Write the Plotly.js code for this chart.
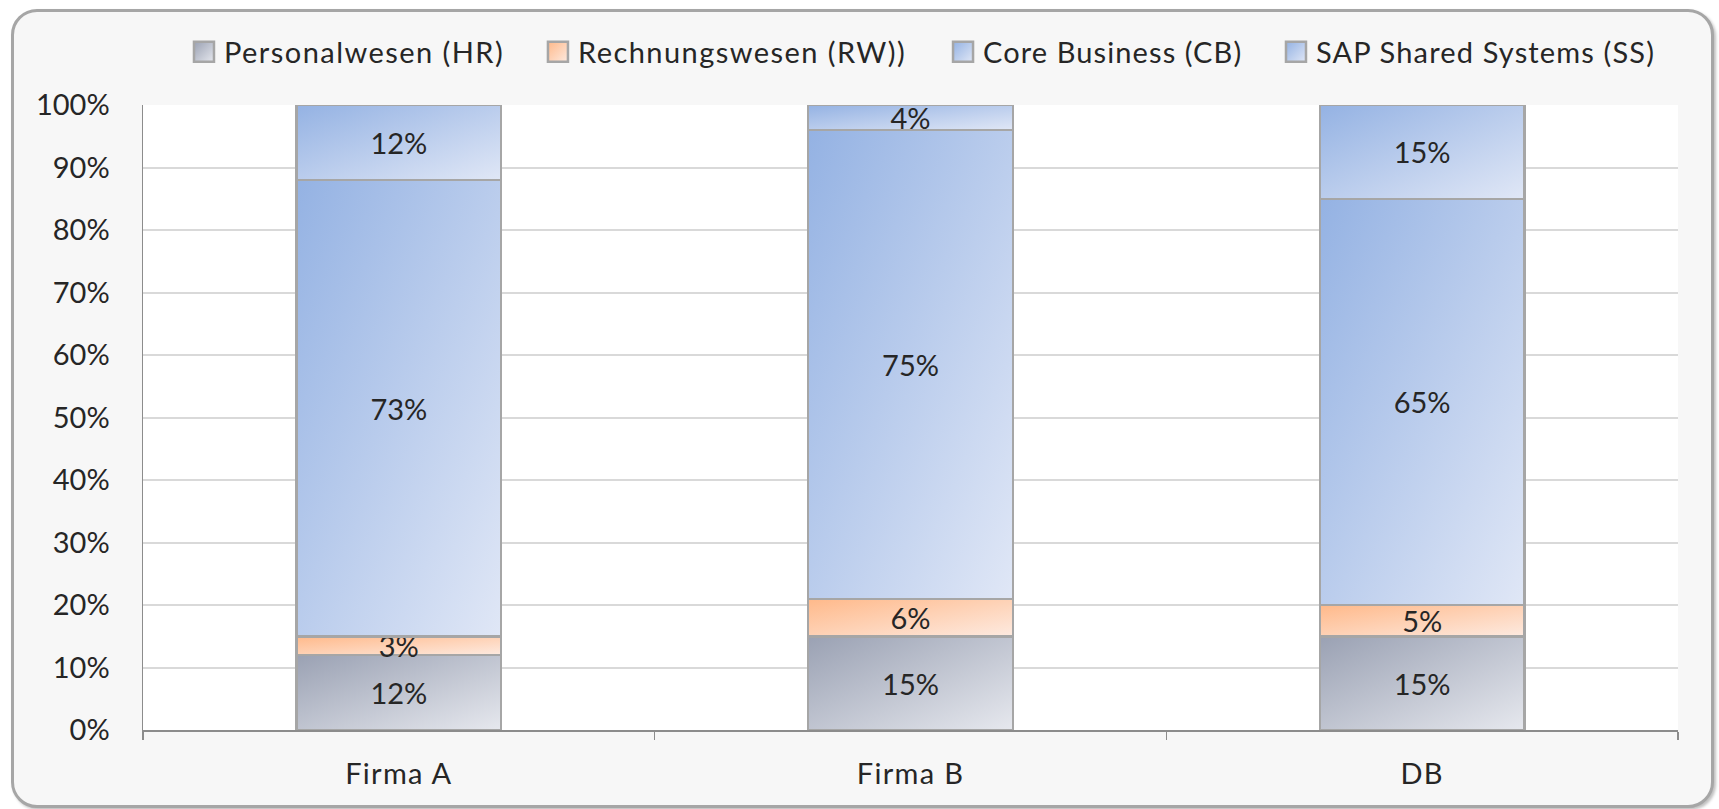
<!DOCTYPE html>
<html>
<head>
<meta charset="utf-8">
<script src="https://cdn.plot.ly/plotly-3.0.1.min.js"></script>
<style>
  html, body { margin: 0; padding: 0; background: #ffffff; width: 1719px; height: 809px; overflow: hidden; }
  #frame { position: absolute; left: 11px; top: 9px; width: 1697px; height: 793px;
           border: 3px solid #a6a6a6; border-radius: 26px; background: #f7f7f7;
           box-shadow: 2px 2px 3px rgba(0,0,0,0.25); }
  #chart { position: absolute; left: 0; top: 0; width: 1719px; height: 809px; }
  #chart .xtick text { letter-spacing: 1.3px; }
</style>
</head>
<body>
<div id="frame"></div>
<div id="chart"></div>
<script>
const categories = ["Firma A", "Firma B", "DB"];
const seriesNames = ["Personalwesen (HR)", "Rechnungswesen (RW))", "Core Business (CB)", "SAP Shared Systems (SS)"];
const hrValues = [12, 15, 15];
const rwValues = [3, 6, 5];
const cbValues = [73, 75, 65];
const ssValues = [12, 4, 15];
const yTickValues = [0, 10, 20, 30, 40, 50, 60, 70, 80, 90, 100];

const seriesValues = [hrValues, rwValues, cbValues, ssValues];
const baseColors = ["#bfc3cf", "#fdd0b4", "#bccdec", "#bccdec"];
const gradStops = [
  ["#9aa1b3", "#e6e8ee"],
  ["#ffb98a", "#fdeae0"],
  ["#94b2e3", "#e0e7f6"],
  ["#94b2e3", "#e0e7f6"]
];
const legendIds = ["legend", "legend2", "legend3", "legend4"];
const legendX = [0.0267, 0.2573, 0.5212, 0.7381];
const legendSpacing = [1.45, 1.45, 1.1, 1.15];
const FONT = "Lato, 'Open Sans', sans-serif";
const FS = 29;

const traces = seriesNames.map((name, i) => ({
  type: "bar",
  name: name,
  legend: legendIds[i],
  x: categories,
  y: seriesValues[i],
  text: seriesValues[i].map(v => v + "%"),
  texttemplate: "%{text}",
  textposition: "inside",
  insidetextanchor: "middle",
  textangle: 0,
  constraintext: "none",
  cliponaxis: false,
  textfont: { family: FONT, size: FS, color: "#262626" },
  marker: { color: baseColors[i], line: { color: "#a6a6a6", width: 2.5 } },
  hoverinfo: "none"
}));

const layout = {
  width: 1719,
  height: 809,
  paper_bgcolor: "rgba(0,0,0,0)",
  plot_bgcolor: "#ffffff",
  margin: { l: 143, r: 41, t: 105, b: 79, pad: 0 },
  barmode: "stack",
  bargap: 0.6,
  showlegend: true,
  xaxis: {
    type: "category",
    tickson: "boundaries",
    ticks: "outside",
    ticklen: 8,
    tickcolor: "#8c8c8c",
    tickwidth: 1.5,
    showline: true,
    linecolor: "#8c8c8c",
    linewidth: 1.5,
    showgrid: false,
    ticklabelstandoff: 18,
    tickfont: { family: FONT, size: FS, color: "#262626" },
    fixedrange: true
  },
  yaxis: {
    range: [0, 100],
    tickvals: yTickValues,
    ticktext: yTickValues.map(v => v + "%"),
    showline: true,
    linecolor: "#8c8c8c",
    linewidth: 1.5,
    ticks: "",
    showgrid: true,
    gridcolor: "#d9d9d9",
    gridwidth: 2,
    zeroline: false,
    tickfont: { family: FONT, size: FS, color: "#262626" },
    ticklabelstandoff: 26,
    fixedrange: true
  }
};
legendIds.forEach((id, i) => {
  layout[id] = {
    orientation: "h",
    x: legendX[i], xanchor: "left",
    y: 1.0848, yanchor: "middle",
    font: { family: FONT, size: FS, color: "#262626" },
    itemwidth: 30,
    bgcolor: "rgba(0,0,0,0)"
  };
});

Plotly.newPlot("chart", traces, layout, { displayModeBar: false, staticPlot: true }).then(gd => {
  const svgNS = "http://www.w3.org/2000/svg";
  const svg = gd.querySelector("svg.main-svg");
  let defs = svg.querySelector("defs");
  if (!defs) { defs = document.createElementNS(svgNS, "defs"); svg.insertBefore(defs, svg.firstChild); }
  gradStops.forEach((st, i) => {
    const g = document.createElementNS(svgNS, "linearGradient");
    g.setAttribute("id", "barGrad" + i);
    g.setAttribute("x1", "0"); g.setAttribute("y1", "0");
    g.setAttribute("x2", "1"); g.setAttribute("y2", "1");
    const s1 = document.createElementNS(svgNS, "stop");
    s1.setAttribute("offset", "0"); s1.setAttribute("stop-color", st[0]);
    const s2 = document.createElementNS(svgNS, "stop");
    s2.setAttribute("offset", "1"); s2.setAttribute("stop-color", st[1]);
    g.appendChild(s1); g.appendChild(s2);
    defs.appendChild(g);
  });
  const traceGroups = gd.querySelectorAll(".barlayer .trace.bars");
  traceGroups.forEach((tg, i) => {
    tg.querySelectorAll(".point path").forEach(p => { p.style.fill = "url(#barGrad" + i + ")"; });
  });
  legendIds.forEach((id, i) => {
    const lg = gd.querySelector("g." + id);
    if (!lg) return;
    lg.removeAttribute("clip-path");
    lg.querySelectorAll("[clip-path]").forEach(el => el.removeAttribute("clip-path"));
    lg.querySelectorAll("text").forEach(t => { t.style.letterSpacing = legendSpacing[i] + "px"; });
    lg.querySelectorAll(".legendpoints path").forEach(p => {
      p.style.fill = "url(#barGrad" + i + ")";
      p.style.stroke = "#a6a6a6";
      p.style.strokeWidth = "2.5px";
      p.setAttribute("d", "M10,10H-10V-10H10Z");
    });
  });
});
</script>
</body>
</html>
